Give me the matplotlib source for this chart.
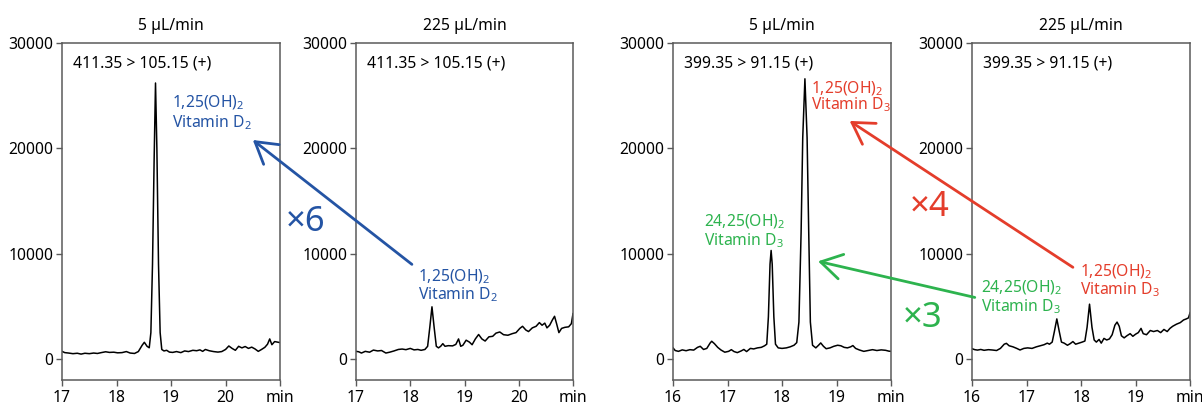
import numpy as np
import matplotlib
matplotlib.use('Agg')
import matplotlib.pyplot as plt
from matplotlib.patches import ConnectionPatch

plt.rcParams['font.family'] = ['Noto Sans', 'DejaVu Sans']
plt.rcParams['mathtext.fontset'] = 'custom'
plt.rcParams['mathtext.rm'] = 'Noto Sans'
plt.rcParams['mathtext.default'] = 'regular'

# ---- data (time in min, intensity in counts) ----
t_d2_5 = [17.00, 17.05, 17.12, 17.20, 17.28, 17.35, 17.42, 17.50, 17.58, 17.65,
          17.72, 17.80, 17.87, 17.95, 18.02, 18.10, 18.18, 18.25, 18.33, 18.40,
          18.47, 18.51, 18.56, 18.60, 18.63, 18.66, 18.69, 18.715, 18.74, 18.77,
          18.80, 18.83, 18.87, 18.92, 18.97, 19.03, 19.10, 19.18, 19.25, 19.32,
          19.40, 19.47, 19.53, 19.58, 19.63, 19.70, 19.78, 19.86, 19.93, 20.00,
          20.06, 20.12, 20.18, 20.24, 20.30, 20.36, 20.42, 20.48, 20.54, 20.60,
          20.66, 20.72, 20.77, 20.81, 20.85, 20.90, 20.95, 21.00]
i_d2_5 = [720, 600, 560, 500, 540, 460, 540, 500, 560, 520,
          600, 680, 620, 640, 580, 600, 700, 560, 520, 700,
          1300, 1580, 1200, 1060, 2500, 9000, 19000, 26200, 20000, 9000,
          2500, 900, 760, 820, 650, 620, 700, 600, 760, 700,
          820, 780, 860, 720, 900, 780, 700, 650, 700, 900,
          1230, 1000, 820, 1200, 1050, 1180, 1000, 1120, 950, 720,
          900, 1100, 1400, 1900, 1350, 1650, 1600, 1550]

t_d2_225 = [17.00, 17.05, 17.10, 17.17, 17.25, 17.32, 17.40, 17.47, 17.55, 17.62,
            17.70, 17.78, 17.85, 17.92, 18.00, 18.07, 18.14, 18.20, 18.27, 18.32,
            18.36, 18.40, 18.44, 18.48, 18.52, 18.56, 18.60, 18.64, 18.70, 18.78,
            18.84, 18.89, 18.93, 18.97, 19.03, 19.09, 19.14, 19.20, 19.26, 19.32,
            19.38, 19.45, 19.52, 19.58, 19.65, 19.72, 19.80, 19.88, 19.95, 20.02,
            20.07, 20.13, 20.18, 20.25, 20.32, 20.38, 20.43, 20.48, 20.52, 20.57,
            20.62, 20.66, 20.70, 20.74, 20.79, 20.85, 20.92, 20.97, 21.00]
i_d2_225 = [720, 680, 560, 720, 640, 840, 760, 800, 560, 640,
            760, 900, 940, 880, 1000, 860, 900, 820, 900, 1200,
            3000, 4950, 3000, 1200, 1050, 1200, 1450, 1200, 1260, 1240,
            1380, 1900, 1200, 1300, 1780, 1600, 1350, 1900, 2320, 1900,
            1700, 2100, 2150, 2450, 2560, 2300, 2250, 2400, 2500, 2900,
            3100, 2750, 2600, 2950, 3100, 3450, 3200, 3400, 2950, 3200,
            3700, 4050, 3300, 2500, 2900, 3000, 3050, 3350, 4300]

t_d3_5 = [16.00, 16.04, 16.10, 16.17, 16.24, 16.31, 16.38, 16.45, 16.50, 16.56,
          16.62, 16.68, 16.71, 16.76, 16.82, 16.88, 16.95, 17.02, 17.07, 17.12,
          17.18, 17.25, 17.30, 17.35, 17.42, 17.48, 17.55, 17.62, 17.68, 17.72,
          17.75, 17.78, 17.80, 17.82, 17.85, 17.88, 17.93, 18.00, 18.08, 18.15,
          18.22, 18.27, 18.31, 18.35, 18.38, 18.42, 18.46, 18.49, 18.52, 18.56,
          18.62, 18.67, 18.71, 18.76, 18.81, 18.88, 18.95, 19.02, 19.08, 19.14,
          19.20, 19.26, 19.30, 19.35, 19.42, 19.50, 19.58, 19.66, 19.74, 19.82,
          19.90, 19.96, 20.00]
i_d3_5 = [1050, 800, 720, 860, 780, 880, 840, 1100, 1200, 900,
          1000, 1500, 1680, 1450, 1100, 850, 640, 720, 880, 700,
          600, 760, 900, 700, 1000, 950, 1050, 1100, 1250, 1400,
          4000, 9000, 10300, 9000, 4000, 1400, 1050, 1000, 1050, 1150,
          1300, 1550, 3500, 12000, 21000, 26600, 21000, 12000, 3500, 1300,
          1050, 1300, 1520, 1200, 970, 1050, 1200, 1300, 1250, 1100,
          1050, 1150, 1270, 1000, 850, 720, 800, 880, 800, 860,
          820, 740, 720]

t_d3_225 = [16.00, 16.05, 16.10, 16.16, 16.22, 16.30, 16.37, 16.45, 16.52, 16.59,
            16.63, 16.68, 16.75, 16.82, 16.88, 16.95, 17.02, 17.10, 17.18, 17.25,
            17.32, 17.38, 17.42, 17.47, 17.51, 17.555, 17.60, 17.64, 17.69, 17.75,
            17.80, 17.85, 17.90, 17.96, 18.02, 18.07, 18.11, 18.155, 18.20, 18.24,
            18.28, 18.33, 18.37, 18.42, 18.47, 18.52, 18.57, 18.62, 18.66, 18.70,
            18.74, 18.79, 18.84, 18.90, 18.95, 19.00, 19.05, 19.10, 19.14, 19.20,
            19.27, 19.33, 19.40, 19.46, 19.52, 19.58, 19.63, 19.68, 19.75, 19.82,
            19.88, 19.93, 19.97, 20.00]
i_d3_225 = [970, 880, 840, 900, 820, 880, 850, 800, 1000, 1400,
            1480, 1250, 1150, 1000, 850, 1000, 1050, 1000, 1150, 1250,
            1350, 1500, 1400, 1600, 2600, 3800, 2600, 1600, 1500, 1300,
            1450, 1650, 1400, 1500, 1600, 1700, 3000, 5200, 3000, 1800,
            1600, 1850, 1500, 1950, 1800, 1900, 2300, 3200, 3500, 3100,
            2200, 2000, 2200, 2400, 2150, 2350, 2500, 2900, 2400, 2300,
            2700, 2600, 2700, 2500, 2800, 2600, 2900, 3100, 3300, 3450,
            3700, 3800, 3900, 4400]

titles = ['5 µL/min', '225 µL/min', '5 µL/min', '225 µL/min']
transitions = ['411.35 > 105.15 (+)', '411.35 > 105.15 (+)',
               '399.35 > 91.15 (+)', '399.35 > 91.15 (+)']
xranges = [(17, 21), (17, 21), (16, 20), (16, 20)]
yticks = [0, 10000, 20000, 30000]

blue = '#2454a4'
red = '#e43d2b'
green = '#2db34e'
spine_col = '#5a5a5a'

lbl_d2 = ['1,25(OH)$_2$', 'Vitamin D$_2$']
lbl_125d3 = ['1,25(OH)$_2$', 'Vitamin D$_3$']
lbl_2425d3 = ['24,25(OH)$_2$', 'Vitamin D$_3$']

fs = 11.3

fig = plt.figure(figsize=(12.02, 4.04), dpi=100)
lefts = [0.0516, 0.2962, 0.5599, 0.8087]
widths = [0.1814, 0.1805, 0.1814, 0.1814]
axes = [fig.add_axes([l, 0.0594, w, 0.8342]) for l, w in zip(lefts, widths)]

traces = [(t_d2_5, i_d2_5), (t_d2_225, i_d2_225),
          (t_d3_5, i_d3_5), (t_d3_225, i_d3_225)]

for ax, (t, y), title, trn, (x0, x1) in zip(axes, traces, titles, transitions, xranges):
    ax.plot(t, y, color='black', lw=1.1)
    ax.set_xlim(x0, x1)
    ax.set_ylim(-2000, 30000)
    xt = list(range(x0, x1 + 1))
    ax.set_xticks(xt)
    ax.set_xticklabels([str(v) for v in xt[:-1]] + ['min'])
    ax.set_yticks(yticks)
    ax.set_yticklabels([str(v) for v in yticks])
    ax.tick_params(direction='out', length=4, width=1, color=spine_col,
                   labelsize=fs, pad=2)
    ax.tick_params(axis='x', pad=3)
    for s in ax.spines.values():
        s.set_color(spine_col)
        s.set_linewidth(1.1)
    ax.set_title(title, fontsize=fs, pad=9)
    ax.text(0.05, 0.94, trn, transform=ax.transAxes, fontsize=fs,
            va='center', ha='left')


def two_lines(ax, x, y1, y2, lines, color):
    ax.text(x, y1, lines[0], color=color, fontsize=fs, va='baseline', ha='left')
    ax.text(x, y2, lines[1], color=color, fontsize=fs, va='baseline', ha='left')


two_lines(axes[0], 19.01, 23930, 22020, lbl_d2, blue)
two_lines(axes[1], 18.14, 7390, 5710, lbl_d2, blue)
two_lines(axes[2], 18.53, 25270, 23680, lbl_125d3, red)
two_lines(axes[2], 16.57, 12570, 10790, lbl_2425d3, green)
two_lines(axes[3], 17.98, 7810, 6120, lbl_125d3, red)
two_lines(axes[3], 16.16, 6290, 4530, lbl_2425d3, green)

arrows = [
    (axes[1], (18.03, 8980), axes[0], (20.5, 20790), blue),
    (axes[3], (17.85, 8700), axes[2], (19.24, 22600), red),
    (axes[3], (16.05, 5840), axes[2], (18.66, 9270), green),
]
for ax_a, xy_a, ax_b, xy_b, col in arrows:
    cp = ConnectionPatch(xyA=xy_a, coordsA=ax_a.transData,
                         xyB=xy_b, coordsB=ax_b.transData,
                         arrowstyle='->,head_length=0.6,head_width=0.36',
                         mutation_scale=25, color=col, lw=2,
                         shrinkA=0, shrinkB=0, zorder=10)
    fig.add_artist(cp)

fig.text(0.2546, 0.4505, '×6', color=blue, fontsize=25, ha='center', va='center')
fig.text(0.7737, 0.4876, '×4', color=red, fontsize=25, ha='center', va='center')
fig.text(0.7679, 0.2129, '×3', color=green, fontsize=25, ha='center', va='center')

fig.savefig('out.png', dpi=100)
